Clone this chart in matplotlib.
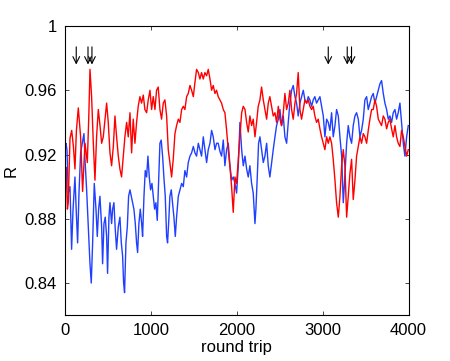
import matplotlib
matplotlib.use('Agg')
import matplotlib.pyplot as plt
import matplotlib as mpl

# data
red_x = [0, 10, 25, 35, 55, 75, 95, 113, 130, 152, 179, 202, 230, 257, 275, 288, 307, 327, 346, 365,
         385, 405, 424, 443, 463, 482, 501, 521, 540, 560, 579, 598, 618, 637, 656, 676, 695, 715, 734, 754,
         773, 792, 812, 831, 850, 870, 889, 909, 928, 948, 967, 987, 1006, 1025, 1045, 1064, 1083, 1103, 1122, 1142,
         1161, 1181, 1200, 1219, 1239, 1258, 1278, 1297, 1317, 1336, 1356, 1375, 1394, 1414, 1433, 1453, 1472, 1492, 1511, 1530,
         1550, 1569, 1588, 1608, 1627, 1647, 1666, 1686, 1705, 1724, 1744, 1763, 1782, 1802, 1821, 1841, 1860, 1880, 1899, 1919,
         1938, 1957, 1977, 1996, 2016, 2035, 2055, 2074, 2094, 2113, 2132, 2151, 2171, 2190, 2210, 2229, 2248, 2268, 2287, 2307,
         2326, 2346, 2365, 2384, 2404, 2423, 2443, 2462, 2482, 2501, 2520, 2540, 2559, 2579, 2598, 2617, 2637, 2656, 2676, 2695,
         2714, 2734, 2753, 2773, 2792, 2812, 2831, 2850, 2870, 2889, 2908, 2928, 2947, 2967, 2986, 3006, 3025, 3045, 3064, 3083,
         3103, 3122, 3142, 3161, 3181, 3200, 3220, 3239, 3258, 3278, 3297, 3316, 3336, 3355, 3375, 3394, 3414, 3433, 3452, 3472,
         3491, 3511, 3530, 3549, 3569, 3588, 3608, 3627, 3647, 3666, 3685, 3705, 3724, 3744, 3763, 3782, 3802, 3821, 3841, 3860,
         3879, 3899, 3918, 3938, 3957, 3977, 3996]
red_y = [0.905, 0.912, 0.886, 0.890, 0.930, 0.935, 0.925, 0.911, 0.935, 0.949, 0.931, 0.897, 0.927, 0.915, 0.945, 0.973, 0.956, 0.927, 0.904, 0.931,
         0.948, 0.938, 0.927, 0.931, 0.942, 0.952, 0.940, 0.921, 0.913, 0.925, 0.944, 0.931, 0.919, 0.911, 0.906, 0.919, 0.931, 0.940, 0.931, 0.946,
         0.921, 0.942, 0.927, 0.940, 0.950, 0.956, 0.952, 0.957, 0.948, 0.946, 0.954, 0.960, 0.948, 0.956, 0.948, 0.960, 0.962, 0.948, 0.942, 0.952,
         0.954, 0.944, 0.923, 0.915, 0.906, 0.917, 0.933, 0.938, 0.942, 0.940, 0.948, 0.950, 0.948, 0.956, 0.958, 0.963, 0.960, 0.956, 0.965, 0.973,
         0.971, 0.967, 0.971, 0.967, 0.971, 0.969, 0.973, 0.967, 0.960, 0.963, 0.958, 0.960, 0.956, 0.954, 0.952, 0.948, 0.946, 0.935, 0.923, 0.912,
         0.900, 0.884, 0.906, 0.902, 0.917, 0.931, 0.946, 0.950, 0.948, 0.940, 0.934, 0.944, 0.938, 0.942, 0.931, 0.940, 0.950, 0.954, 0.962, 0.954,
         0.948, 0.942, 0.952, 0.956, 0.950, 0.944, 0.946, 0.940, 0.950, 0.942, 0.938, 0.946, 0.958, 0.948, 0.952, 0.960, 0.948, 0.942, 0.952, 0.958,
         0.971, 0.948, 0.942, 0.948, 0.954, 0.952, 0.954, 0.950, 0.948, 0.950, 0.944, 0.940, 0.942, 0.936, 0.931, 0.927, 0.923, 0.931, 0.927, 0.931,
         0.927, 0.917, 0.904, 0.890, 0.881, 0.894, 0.913, 0.923, 0.913, 0.881, 0.894, 0.908, 0.917, 0.892, 0.904, 0.919, 0.925, 0.931, 0.927, 0.933,
         0.931, 0.927, 0.935, 0.942, 0.948, 0.948, 0.954, 0.950, 0.942, 0.940, 0.938, 0.944, 0.942, 0.936, 0.940, 0.942, 0.936, 0.931, 0.938, 0.931,
         0.927, 0.925, 0.935, 0.931, 0.925, 0.919, 0.923]

blue_x = [0, 8, 20, 35, 55, 74, 90, 113, 128, 144, 160, 179, 198, 218, 230, 249, 268, 288, 303, 319,
          338, 358, 373, 389, 404, 424, 435, 451, 466, 482, 493, 509, 521, 540, 552, 567, 583, 598, 618, 637,
          653, 668, 680, 691, 707, 723, 738, 754, 769, 785, 800, 816, 831, 843, 858, 874, 890, 901, 917, 932,
          948, 963, 979, 994, 1010, 1025, 1041, 1056, 1072, 1087, 1103, 1118, 1134, 1149, 1165, 1181, 1192, 1208, 1219, 1235,
          1250, 1266, 1282, 1297, 1317, 1336, 1356, 1375, 1394, 1414, 1433, 1453, 1472, 1492, 1511, 1530, 1550, 1569, 1588, 1608,
          1627, 1647, 1666, 1686, 1705, 1724, 1744, 1763, 1782, 1802, 1821, 1841, 1860, 1880, 1899, 1919, 1938, 1957, 1977, 1996,
          2016, 2035, 2055, 2074, 2094, 2113, 2132, 2151, 2171, 2190, 2210, 2221, 2237, 2252, 2268, 2287, 2307, 2326, 2346, 2365,
          2384, 2404, 2423, 2443, 2462, 2482, 2501, 2520, 2540, 2559, 2579, 2598, 2617, 2637, 2656, 2676, 2695, 2714, 2734, 2753,
          2773, 2792, 2812, 2831, 2850, 2870, 2889, 2908, 2928, 2947, 2967, 2986, 3006, 3025, 3045, 3064, 3083, 3103, 3122, 3142,
          3161, 3181, 3200, 3220, 3239, 3253, 3268, 3278, 3297, 3316, 3336, 3355, 3375, 3394, 3414, 3433, 3452, 3472, 3491, 3511,
          3530, 3549, 3569, 3588, 3608, 3627, 3647, 3666, 3685, 3705, 3724, 3744, 3763, 3782, 3802, 3821, 3841, 3860, 3879, 3899,
          3918, 3938, 3957, 3977, 3996]
blue_y = [0.925, 0.927, 0.923, 0.896, 0.900, 0.861, 0.885, 0.906, 0.885, 0.865, 0.896, 0.921, 0.927, 0.933, 0.917, 0.898, 0.875, 0.852, 0.840, 0.865,
          0.902, 0.886, 0.869, 0.886, 0.894, 0.875, 0.852, 0.877, 0.881, 0.869, 0.846, 0.881, 0.890, 0.877, 0.886, 0.890, 0.873, 0.861, 0.875, 0.881,
          0.865, 0.857, 0.840, 0.834, 0.865, 0.875, 0.894, 0.898, 0.894, 0.890, 0.886, 0.877, 0.865, 0.859, 0.877, 0.886, 0.877, 0.869, 0.894, 0.910,
          0.906, 0.919, 0.906, 0.898, 0.902, 0.894, 0.886, 0.890, 0.879, 0.902, 0.927, 0.929, 0.919, 0.906, 0.894, 0.869, 0.865, 0.881, 0.894, 0.898,
          0.890, 0.881, 0.869, 0.881, 0.894, 0.898, 0.902, 0.900, 0.910, 0.906, 0.915, 0.919, 0.921, 0.925, 0.921, 0.919, 0.927, 0.923, 0.919, 0.931,
          0.923, 0.915, 0.923, 0.927, 0.935, 0.931, 0.923, 0.927, 0.927, 0.922, 0.919, 0.929, 0.913, 0.923, 0.927, 0.913, 0.904, 0.906, 0.902, 0.896,
          0.913, 0.940, 0.923, 0.913, 0.919, 0.911, 0.906, 0.913, 0.902, 0.896, 0.877, 0.886, 0.906, 0.927, 0.931, 0.923, 0.915, 0.919, 0.927, 0.913,
          0.906, 0.915, 0.923, 0.931, 0.938, 0.942, 0.948, 0.938, 0.944, 0.931, 0.927, 0.940, 0.952, 0.960, 0.963, 0.956, 0.952, 0.944, 0.952, 0.956,
          0.960, 0.954, 0.952, 0.956, 0.954, 0.950, 0.954, 0.956, 0.952, 0.954, 0.956, 0.950, 0.944, 0.931, 0.942, 0.940, 0.935, 0.946, 0.931, 0.938,
          0.948, 0.944, 0.931, 0.919, 0.890, 0.902, 0.917, 0.927, 0.938, 0.931, 0.927, 0.938, 0.944, 0.946, 0.942, 0.931, 0.935, 0.942, 0.954, 0.956,
          0.948, 0.952, 0.956, 0.958, 0.952, 0.956, 0.960, 0.964, 0.966, 0.958, 0.952, 0.948, 0.942, 0.944, 0.940, 0.946, 0.948, 0.942, 0.946, 0.952,
          0.940, 0.927, 0.919, 0.931, 0.938]

# arrow markers along the top (round trip, from R, to R)
arrow_x = [128, 265, 311, 3064, 3285, 3335]
arrow_top = 0.987
arrow_tip = 0.976

xticks = [0, 1000, 2000, 3000, 4000]
yticks = [0.84, 0.88, 0.92, 0.96, 1.0]
ytick_labels = ['0.84', '0.88', '0.92', '0.96', '1']

# style
mpl.rcParams['font.family'] = ['Liberation Sans', 'DejaVu Sans']
mpl.rcParams['font.size'] = 12

fig = plt.figure(figsize=(4.5, 3.61), dpi=100)
ax = fig.add_axes([0.145, 0.127, 0.763, 0.801])

ax.plot(blue_x, blue_y, color='#2040ff', linewidth=1.0)
ax.plot(red_x, red_y, color='#ff0000', linewidth=1.0)

# thin open-headed arrows drawn as annotations (no text)
for xa in arrow_x:
    ax.annotate('', xy=(xa, arrow_tip), xytext=(xa, arrow_top),
                arrowprops=dict(arrowstyle='->', color='k', lw=0.8,
                                shrinkA=0, shrinkB=0, mutation_scale=12))

# formatting
ax.set_xlim(0, 4000)
ax.set_ylim(0.82, 1.0)
ax.set_xticks(xticks)
ax.set_yticks(yticks)
ax.set_yticklabels(ytick_labels)
ax.tick_params(direction='in', top=True, right=True, length=3, width=0.5, labelsize=12, pad=6)
for s in ax.spines.values():
    s.set_linewidth(0.8)
ax.set_xlabel('round trip', fontsize=12, labelpad=1)
ax.set_ylabel('R', fontsize=12, labelpad=4)

plt.savefig('out.png', dpi=100, facecolor='w')
